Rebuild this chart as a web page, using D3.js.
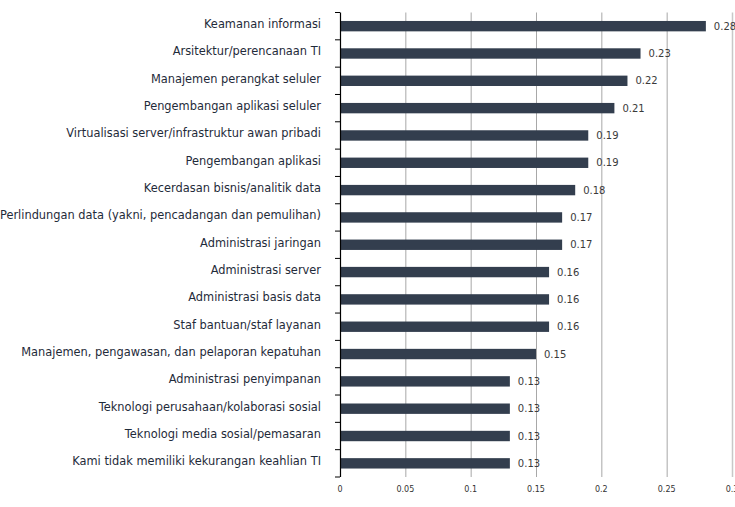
<!DOCTYPE html>
<html>
<head>
    <meta charset="utf-8">
    <script src="https://d3js.org/d3.v7.min.js"></script>
    <style>
        body { margin: 0; background: #fff; font-family: "DejaVu Sans", sans-serif; }
        .cat { font-size: 11.4px; fill: #1f2b3a; }
        .val { font-size: 10px; fill: #3a3a3a; }
        .tick-x { font-size: 8px; fill: #333; }
    </style>
</head>
<body>
    <script>
        const categories = [
            "Keamanan informasi",
            "Arsitektur/perencanaan TI",
            "Manajemen perangkat seluler",
            "Pengembangan aplikasi seluler",
            "Virtualisasi server/infrastruktur awan pribadi",
            "Pengembangan aplikasi",
            "Kecerdasan bisnis/analitik data",
            "Perlindungan data (yakni, pencadangan dan pemulihan)",
            "Administrasi jaringan",
            "Administrasi server",
            "Administrasi basis data",
            "Staf bantuan/staf layanan",
            "Manajemen, pengawasan, dan pelaporan kepatuhan",
            "Administrasi penyimpanan",
            "Teknologi perusahaan/kolaborasi sosial",
            "Teknologi media sosial/pemasaran",
            "Kami tidak memiliki kekurangan keahlian TI"
        ];
        const values = [0.28, 0.23, 0.22, 0.21, 0.19, 0.19, 0.18, 0.17, 0.17, 0.16, 0.16, 0.16, 0.15, 0.13, 0.13, 0.13, 0.13];
        const xTicks = [0, 0.05, 0.1, 0.15, 0.2, 0.25, 0.3];

        const width = 735, height = 507;
        const plotLeft = 340, plotRight = 732, plotTop = 12.5, plotBottom = 477;

        const svg = d3.select("body").append("svg")
            .attr("width", width)
            .attr("height", height);

        const x = d3.scaleLinear().domain([0, 0.3]).range([plotLeft, plotRight]);
        const y = d3.scaleBand().domain(categories).range([plotTop, plotBottom]).paddingInner(0.62).paddingOuter(0.31);

        // gridlines
        svg.append("g")
            .selectAll("line")
            .data(xTicks.slice(1))
            .enter().append("line")
            .attr("x1", d => x(d) + 0.5)
            .attr("x2", d => x(d) + 0.5)
            .attr("y1", plotTop)
            .attr("y2", plotBottom)
            .attr("stroke", (d, i) => i === xTicks.length - 2 ? "#c8c8c8" : "#a8a8a8")
            .attr("stroke-width", (d, i) => i === xTicks.length - 2 ? 1.5 : 1);

        // bars
        svg.append("g")
            .selectAll("rect")
            .data(values)
            .enter().append("rect")
            .attr("x", plotLeft)
            .attr("y", (d, i) => y(categories[i]))
            .attr("width", d => x(d) - plotLeft)
            .attr("height", y.bandwidth())
            .attr("fill", "#333e4e");

        // value labels
        svg.append("g")
            .selectAll("text")
            .data(values)
            .enter().append("text")
            .attr("class", "val")
            .attr("x", d => x(d) + 8)
            .attr("y", (d, i) => y(categories[i]) + y.bandwidth() / 2)
            .attr("dy", "0.35em")
            .text(d => d.toString());

        // y axis line and ticks
        const step = y.step();
        const boundaries = d3.range(categories.length + 1).map(i => plotTop + i * step);
        svg.append("line")
            .attr("x1", plotLeft + 0.5).attr("x2", plotLeft + 0.5)
            .attr("y1", plotTop).attr("y2", plotBottom)
            .attr("stroke", "#000").attr("stroke-width", 1.2);
        svg.append("g")
            .selectAll("line")
            .data(boundaries)
            .enter().append("line")
            .attr("x1", plotLeft - 5).attr("x2", plotLeft)
            .attr("y1", d => d).attr("y2", d => d)
            .attr("stroke", "#000");

        // category labels
        svg.append("g")
            .selectAll("text")
            .data(categories)
            .enter().append("text")
            .attr("class", "cat")
            .attr("x", 321)
            .attr("y", d => y(d) + y.bandwidth() / 2 - 2)
            .attr("dy", "0.35em")
            .attr("text-anchor", "end")
            .text(d => d);

        // x tick labels
        svg.append("g")
            .selectAll("text")
            .data(xTicks)
            .enter().append("text")
            .attr("class", "tick-x")
            .attr("x", d => x(d))
            .attr("y", 492)
            .attr("text-anchor", "middle")
            .text(d => d.toString());
    </script>
</body>
</html>
